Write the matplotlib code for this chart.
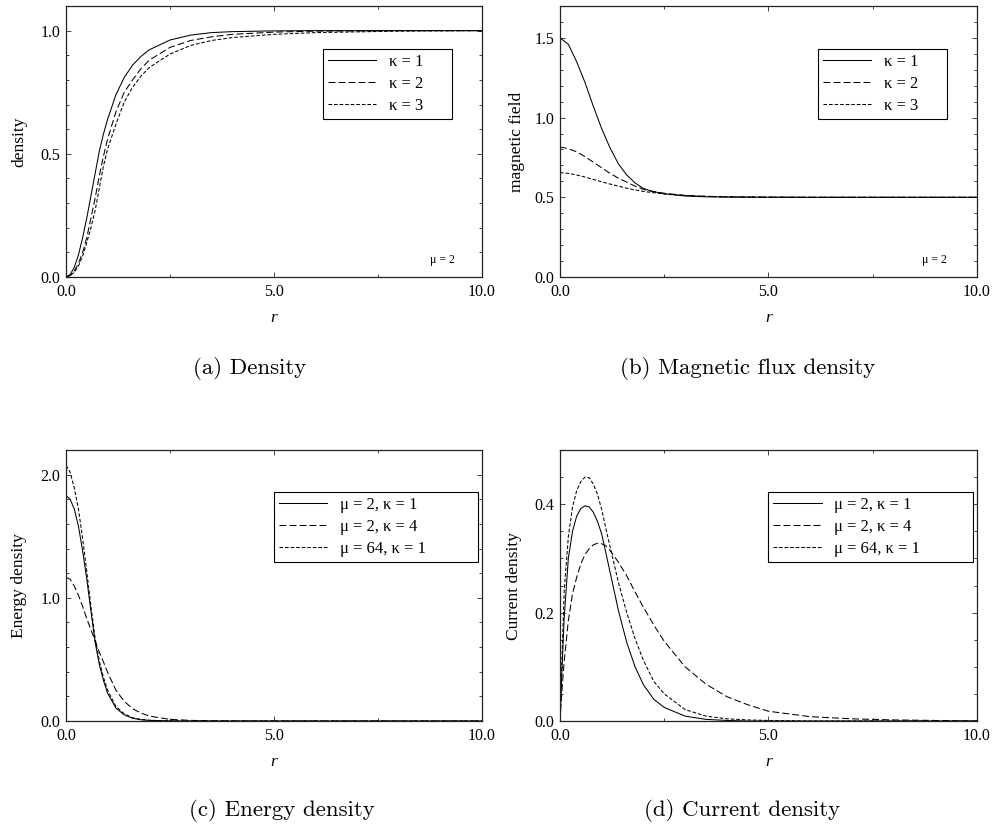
import matplotlib
matplotlib.use("Agg")
import matplotlib.pyplot as plt
from matplotlib.ticker import MultipleLocator, FormatStrFormatter

plt.rcParams['font.family'] = ['Liberation Serif', 'DejaVu Serif']
plt.rcParams['lines.scale_dashes'] = False

# ---------------- data ----------------
# (a) density, mu = 2
r_dens = [0, 0.1, 0.2, 0.3, 0.4, 0.5, 0.6, 0.7, 0.8, 0.9, 1.0, 1.2, 1.4, 1.6,
          1.8, 2.0, 2.5, 3.0, 3.5, 4.0, 5.0, 6.0, 8.0, 10.0]
dens_k1 = [0, 0.01, 0.04, 0.09, 0.16, 0.24, 0.33, 0.42, 0.51, 0.58, 0.64, 0.74,
           0.81, 0.86, 0.895, 0.922, 0.962, 0.982, 0.992, 0.996, 0.999, 1.0, 1.0, 1.0]
dens_k2 = [0, 0.006, 0.025, 0.055, 0.10, 0.16, 0.24, 0.32, 0.41, 0.49, 0.56, 0.67,
           0.75, 0.80, 0.845, 0.88, 0.932, 0.96, 0.975, 0.985, 0.994, 0.998, 1.0, 1.0]
dens_k3 = [0, 0.005, 0.02, 0.045, 0.085, 0.14, 0.20, 0.27, 0.36, 0.45, 0.52, 0.62,
           0.71, 0.77, 0.815, 0.85, 0.905, 0.94, 0.96, 0.972, 0.985, 0.992, 0.998, 1.0]

# (b) magnetic field, mu = 2
r_mag = [0, 0.2, 0.4, 0.6, 0.8, 1.0, 1.2, 1.4, 1.6, 1.8, 2.0, 2.2, 2.5, 3.0,
         3.5, 4.0, 5.0, 6.0, 10.0]
mag_k1 = [1.5, 1.46, 1.35, 1.22, 1.07, 0.93, 0.81, 0.71, 0.64, 0.59, 0.555, 0.538,
          0.522, 0.508, 0.503, 0.501, 0.5, 0.5, 0.5]
mag_k2 = [0.815, 0.805, 0.785, 0.755, 0.72, 0.685, 0.65, 0.62, 0.595, 0.57, 0.55,
          0.538, 0.525, 0.512, 0.506, 0.503, 0.501, 0.5, 0.5]
mag_k3 = [0.655, 0.65, 0.64, 0.627, 0.612, 0.597, 0.583, 0.57, 0.557, 0.546, 0.537,
          0.53, 0.521, 0.511, 0.506, 0.503, 0.501, 0.5, 0.5]

# (c) energy density
r_en = [0, 0.1, 0.2, 0.3, 0.4, 0.5, 0.6, 0.7, 0.8, 0.9, 1.0, 1.2, 1.4, 1.6,
        1.8, 2.0, 2.5, 3.0, 3.5, 4.0, 5.0, 10.0]
en_m2_k1 = [1.83, 1.80, 1.72, 1.58, 1.38, 1.15, 0.89, 0.64, 0.46, 0.33, 0.225,
            0.105, 0.05, 0.022, 0.01, 0.005, 0.001, 0, 0, 0, 0, 0]
en_m2_k4 = [1.167, 1.15, 1.095, 1.02, 0.93, 0.83, 0.74, 0.65, 0.56, 0.48, 0.395,
            0.25, 0.16, 0.10, 0.065, 0.04, 0.013, 0.005, 0.002, 0.0005, 0, 0]
en_m64_k1 = [2.075, 2.02, 1.89, 1.72, 1.48, 1.21, 0.93, 0.67, 0.49, 0.355, 0.25,
             0.118, 0.058, 0.027, 0.013, 0.006, 0.001, 0, 0, 0, 0, 0]

# (d) current density
r_cur = [0, 0.05, 0.1, 0.2, 0.3, 0.4, 0.5, 0.6, 0.7, 0.8, 0.9, 1.0, 1.1, 1.2,
         1.4, 1.6, 1.8, 2.0, 2.25, 2.5, 3.0, 3.5, 4.0, 4.5, 5.0, 6.0, 7.0, 8.0, 9.0, 10.0]
cur_m2_k1 = [0, 0.10, 0.19, 0.30, 0.35, 0.378, 0.392, 0.397, 0.395, 0.385, 0.368,
             0.345, 0.31, 0.275, 0.204, 0.145, 0.10, 0.067, 0.04, 0.025, 0.009,
             0.003, 0.001, 0, 0, 0, 0, 0, 0, 0]
cur_m2_k4 = [0, 0.06, 0.11, 0.185, 0.235, 0.265, 0.29, 0.307, 0.318, 0.325, 0.328,
             0.327, 0.323, 0.315, 0.293, 0.268, 0.238, 0.21, 0.177, 0.147, 0.10,
             0.068, 0.045, 0.03, 0.018, 0.008, 0.004, 0.002, 0.001, 0]
cur_m64_k1 = [0, 0.12, 0.24, 0.34, 0.395, 0.425, 0.442, 0.45, 0.449, 0.437, 0.418,
              0.39, 0.355, 0.322, 0.256, 0.20, 0.152, 0.112, 0.073, 0.05, 0.021,
              0.009, 0.004, 0.002, 0.001, 0, 0, 0, 0, 0]

kappa_labels = ['κ = 1', 'κ = 2', 'κ = 3']
mixed_labels = ['μ = 2, κ = 1', 'μ = 2, κ = 4', 'μ = 64, κ = 1']
x_ticks_major = 5.0
x_ticks_minor = 2.5
captions = ['(a) Density', '(b) Magnetic flux density',
            '(c) Energy density', '(d) Current density']

# ---------------- styling ----------------
SOLID = '-'
DASH = (0, (5.0, 2.2))
SHORT = (0, (2.6, 1.4))
LW = 0.75
TICKFS = 11.5
LABFS = 12.5
LEGFS = 12

W, H = 995, 826
fig = plt.figure(figsize=(W / 100, H / 100), dpi=100)


def add_axes(left_px, top_px, right_px, bottom_px):
    return fig.add_axes([left_px / W, 1 - bottom_px / H,
                         (right_px - left_px) / W, (bottom_px - top_px) / H])


def style(ax, ylim, ymaj, ymin, ylabel, ylab_x):
    ax.set_xlim(0, 10)
    ax.set_ylim(*ylim)
    ax.xaxis.set_major_locator(MultipleLocator(x_ticks_major))
    ax.xaxis.set_minor_locator(MultipleLocator(x_ticks_minor))
    ax.yaxis.set_major_locator(MultipleLocator(ymaj))
    ax.yaxis.set_minor_locator(MultipleLocator(ymin))
    ax.xaxis.set_major_formatter(FormatStrFormatter('%.1f'))
    ax.yaxis.set_major_formatter(FormatStrFormatter('%.1f'))
    ax.tick_params(which='both', direction='in', top=True, right=True,
                   labelsize=TICKFS, width=0.6, color='#222222')
    ax.tick_params(which='major', length=3.5)
    ax.tick_params(which='minor', length=2.5)
    ax.tick_params(axis='x', pad=5)
    ax.tick_params(axis='y', pad=4)
    for s in ax.spines.values():
        s.set_linewidth(0.9)
        s.set_color('#222222')
    ax.set_xlabel('r', fontstyle='italic', fontsize=LABFS)
    ax.xaxis.set_label_coords(0.5, -0.12)
    ax.set_ylabel(ylabel, fontsize=LABFS)
    ax.yaxis.set_label_coords(ylab_x, 0.5)


def legend(ax, labels, x0, top, w):
    leg = ax.legend(labels, loc='upper left', bbox_to_anchor=(x0, top - 0.3, w, 0.3),
                    mode='expand', frameon=True, fancybox=False, edgecolor='black',
                    framealpha=1, fontsize=LEGFS, handlelength=2.9, handletextpad=0.75,
                    borderpad=0.3, labelspacing=0.36, borderaxespad=0)
    leg.get_frame().set_linewidth(0.8)


# (a)
ax = add_axes(66, 6, 482, 277)
ax.plot(r_dens, dens_k1, color='black', lw=LW, linestyle=SOLID)
ax.plot(r_dens, dens_k2, color='black', lw=LW, linestyle=DASH)
ax.plot(r_dens, dens_k3, color='black', lw=LW, linestyle=SHORT)
style(ax, (0, 1.1), 0.5, 0.1, 'density', -0.094)
legend(ax, kappa_labels, 0.618, 0.841, 0.31)
ax.text(0.904, 0.063, 'μ = 2', transform=ax.transAxes, fontsize=8.5,
        ha='center', va='center')

# (b)
ax = add_axes(560, 6, 977, 277)
ax.plot(r_mag, mag_k1, color='black', lw=LW, linestyle=SOLID)
ax.plot(r_mag, mag_k2, color='black', lw=LW, linestyle=DASH)
ax.plot(r_mag, mag_k3, color='black', lw=LW, linestyle=SHORT)
style(ax, (0, 1.7), 0.5, 0.1, 'magnetic field', -0.084)
legend(ax, kappa_labels, 0.619, 0.841, 0.309)
ax.text(0.899, 0.063, 'μ = 2', transform=ax.transAxes, fontsize=8.5,
        ha='center', va='center')

# (c)
ax = add_axes(66, 450, 482, 721)
ax.plot(r_en, en_m2_k1, color='black', lw=LW, linestyle=SOLID)
ax.plot(r_en, en_m2_k4, color='black', lw=LW, linestyle=DASH)
ax.plot(r_en, en_m64_k1, color='black', lw=LW, linestyle=SHORT)
style(ax, (0, 2.2), 1.0, 0.2, 'Energy density', -0.094)
legend(ax, mixed_labels, 0.50, 0.845, 0.49)

# (d)
ax = add_axes(560, 450, 977, 721)
ax.plot(r_cur, cur_m2_k1, color='black', lw=LW, linestyle=SOLID)
ax.plot(r_cur, cur_m2_k4, color='black', lw=LW, linestyle=DASH)
ax.plot(r_cur, cur_m64_k1, color='black', lw=LW, linestyle=SHORT)
style(ax, (0, 0.5), 0.2, 0.05, 'Current density', -0.091)
legend(ax, mixed_labels, 0.50, 0.845, 0.49)

# captions
cap_pos = [(250, 368, 'center'), (748, 368, 'center'),
           (189, 810, 'left'), (742, 810, 'center')]
for (cx, cy, ha), txt in zip(cap_pos, captions):
    fig.text(cx / W, 1 - cy / H, txt, fontfamily='cmr10', fontsize=16.5,
             ha=ha, va='center')

fig.savefig('out.png', dpi=100)
